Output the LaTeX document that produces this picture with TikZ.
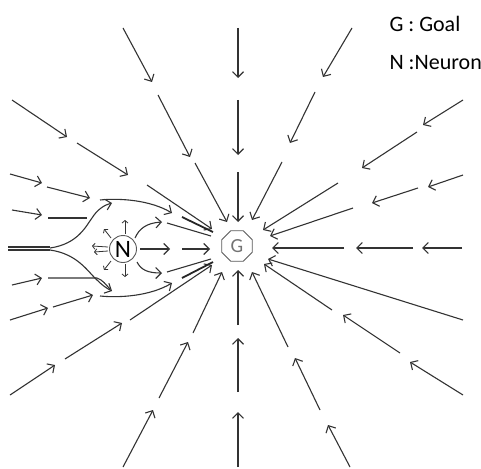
\documentclass[tikz,border=0pt]{standalone}
\usepackage{fontspec}
\setmainfont{Carlito}
\usetikzlibrary{arrows.meta,shapes.geometric}
\begin{document}
\begin{tikzpicture}[x=1pt,y=-1pt,
  vec/.style={draw=black!80, line width=1.1pt, -{Straight Barb[length=5.5pt,width=11pt]}},
  flow/.style={draw=black!80, line width=1.1pt},
  heavy/.style={draw=black!85, line width=1.8pt},
  tiny/.style={draw=black!80, line width=0.8pt, -{Straight Barb[length=2.5pt,width=6pt]}},
  label/.style={anchor=base west, font=\fontsize{22}{22}\selectfont}]
\useasboundingbox (0,0) rectangle (481,468);

% goal and neuron
\node[regular polygon, regular polygon sides=8, draw=black!65, line width=0.9pt,
      minimum size=33pt, inner sep=0pt, text=black!55,
      font=\fontsize{20}{20}\selectfont] (G) at (237,246) {G};
\node[circle, draw=black!65, line width=0.9pt, minimum size=27pt, inner sep=0pt,
      font=\fontsize{25}{25}\selectfont] (N) at (123,249) {N};

% legend
\node[label] (lg) at (386,32) {G : Goal};
\node[label] (ln) at (386,70) {N :Neuron};

% ---- field lines into G, drawn as broken arrow segments ----
\foreach \xa/\ya/\xb/\yb in {%
  238/28/238/78, 238/100/238/155, 238/172/238/222,%
  123/28/152/82, 158/95/190/157, 195/163/227/222,%
  12/100/67/137, 77/143/128/175, 147/185/212/229,%
  352/28/323/77, 315/92/290/143, 282/162/252/220,%
  463/100/423/125, 417/132/362/168, 338/183/263/230,%
  463/175/428/187, 418/188/372/203, 353/208/270/236,%
  462/248/422/248, 413/248/356/248, 344/248/272/248,%
  463/320/268/259,%
  463/395/410/362, 400/353/343/315, 332/310/264/264,%
  350/467/328/425, 320/410/295/358, 288/347/252/272,%
  238/467/238/412, 238/392/238/338, 238/325/238/270,%
  123/467/153/410, 159/398/188/342, 193/333/222/272,%
  10/395/55/365, 65/359/122/323, 130/320/212/265,%
  10/174/42/183, 47/187/90/198,%
  12/210/42/215,%
  12/285/42/278,%
  10/320/48/308, 53/307/93/295%
}{
  \draw[vec] (\xa,\ya) -- (\xb,\yb);
}

% incoming rows that bend into the envelope around N
\draw[flow] (48,218) -- (87,218);
\draw[flow] (48,278) -- (97,278) .. controls (103,280) and (106,285) .. (110,289);

% double line on the axis behind N and its two branches
\draw[flow] (8,247) -- (50,247);
\draw[flow] (8,250) -- (50,250);
\draw[vec] (50,248) .. controls (78,244) and (86,226) .. (92,218)
           .. controls (97,210) and (104,205) .. (112,203);
\draw[vec] (50,250) .. controls (78,254) and (88,272) .. (97,280)
           .. controls (102,285) and (106,288) .. (112,291);

% outer arcs of the envelope
\draw[vec] (100,200) .. controls (120,198) and (150,200) .. (172,213);
\draw[heavy] (182,217) -- (213,232);
\draw[vec] (100,296) .. controls (120,298) and (150,296) .. (172,283);
\draw[heavy] (182,278) -- (213,262);

% inner arcs leaving N
\draw[vec] (135,238) .. controls (139,229) and (146,223) .. (162,222);
\draw[flow] (167,223) -- (211,236);
\draw[vec] (137,262) .. controls (141,270) and (148,273) .. (162,273);
\draw[flow] (167,272) -- (211,259);

% straight line from N to G
\draw[vec] (140,249) -- (170,249);
\draw[vec] (182,249) -- (210,249);

% short arrows around N
\draw[tiny] (125,234) -- (125,220);
\draw[tiny] (125,264) -- (125,277);
\draw[tiny] (111,238) -- (104,229);
\draw[tiny] (111,261) -- (104,270);
\draw[tiny] (108,247) -- (92,246);
\draw[tiny] (108,251) -- (94,252);
\end{tikzpicture}
\end{document}
